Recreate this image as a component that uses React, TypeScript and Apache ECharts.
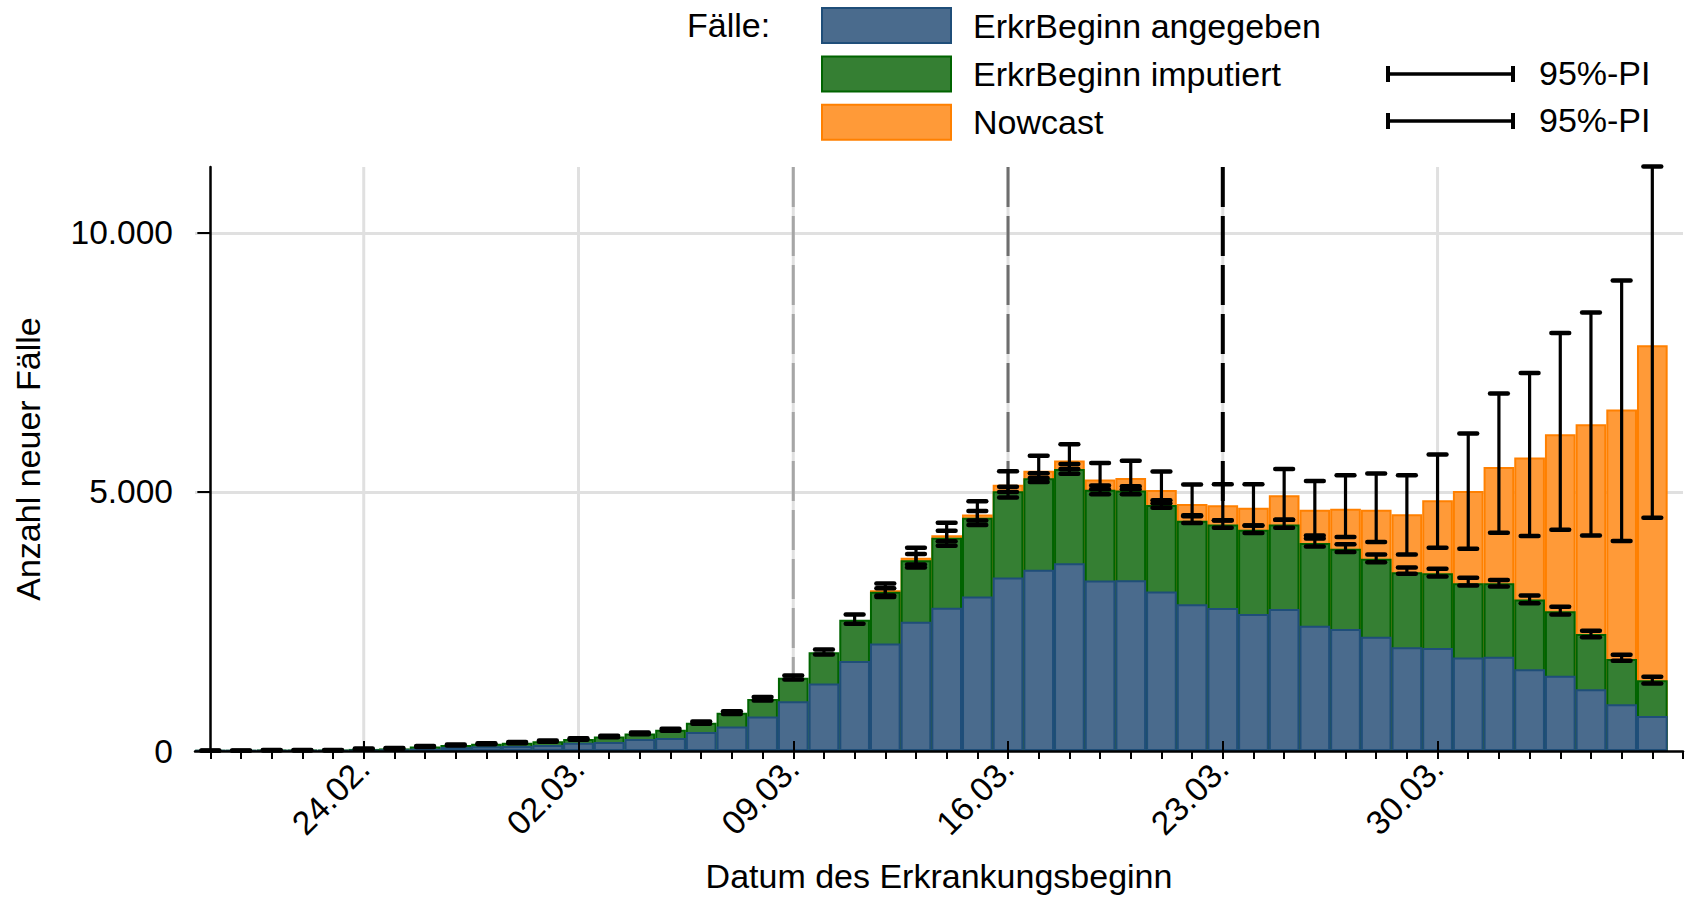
import React, { useEffect, useRef } from 'react';
import * as echarts from 'echarts';

const FONT = '"Liberation Sans", Arial, Helvetica, sans-serif';

const dates = [
  '19.02.', '20.02.', '21.02.', '22.02.', '23.02.', '24.02.', '25.02.', '26.02.', '27.02.', '28.02.', '29.02.',
  '01.03.', '02.03.', '03.03.', '04.03.', '05.03.', '06.03.', '07.03.', '08.03.', '09.03.', '10.03.',
  '11.03.', '12.03.', '13.03.', '14.03.', '15.03.', '16.03.', '17.03.', '18.03.', '19.03.', '20.03.',
  '21.03.', '22.03.', '23.03.', '24.03.', '25.03.', '26.03.', '27.03.', '28.03.', '29.03.', '30.03.',
  '31.03.', '01.04.', '02.04.', '03.04.', '04.04.', '05.04.', '06.04.',
];
const dayTicks = [
  0, 1, 2, 3, 4, 5, 6, 7, 8, 9, 10, 11, 12, 13, 14, 15, 16, 17, 18, 19, 20, 21, 22, 23, 24,
  25, 26, 27, 28, 29, 30, 31, 32, 33, 34, 35, 36, 37, 38, 39, 40, 41, 42, 43, 44, 45, 46, 47, 48,
];
const weekTicks = [5, 12, 19, 26, 33, 40];
const markerDays = [19, 26, 33];
const yTicks = [0, 5000, 10000];

// Fälle: ErkrBeginn angegeben
const reported = [
  5, 5, 8, 8, 8, 20, 30, 45, 75, 90, 96, 115, 160, 173, 231, 250, 368, 475, 668, 960, 1305,
  1735, 2076, 2494, 2764, 2982, 3350, 3500, 3625, 3290, 3295, 3080, 2830, 2761, 2645, 2741, 2419,
  2354, 2206, 2000, 1987, 1806, 1819, 1580, 1451, 1193, 903, 677,
];
// angegeben + imputiert (Gesamt)
const imputedTotal = [
  8, 8, 15, 15, 15, 40, 50, 85, 115, 140, 160, 190, 230, 280, 340, 410, 545, 740, 1005, 1415, 1905,
  2532, 3072, 3683, 4113, 4499, 5015, 5265, 5440, 5040, 5025, 4745, 4445, 4373, 4270, 4373, 4012,
  3902, 3709, 3451, 3431, 3238, 3238, 2922, 2696, 2257, 1774, 1367,
];
// Nowcast (Gesamt)
const nowcastTotal = [
  null, null, null, null, null, null, null, null, null, null, null, null, null, null, null, null, null,
  null, null, null, null, null,
  3100, 3730, 4165, 4565, 5140, 5410, 5605, 5240, 5270, 5035, 4765, 4741, 4696, 4934, 4657, 4676,
  4657, 4567, 4838, 5018, 5483, 5662, 6112, 6305, 6588, 7828,
];
// 95%-PI imputiert
const imputedLo = [
  5, 5, 12, 12, 12, 35, 45, 78, 105, 130, 150, 178, 218, 265, 325, 392, 525, 715, 975, 1380, 1860,
  2455, 2970, 3540, 3960, 4360, 4890, 5190, 5350, 4955, 4955, 4692, 4402, 4309, 4205, 4309, 3947,
  3838, 3644, 3419, 3367, 3193, 3173, 2851, 2632, 2193, 1741, 1303,
];
const imputedHi = [
  12, 12, 20, 20, 20, 48, 58, 95, 125, 150, 172, 202, 244, 295, 358, 430, 568, 765, 1040, 1455, 1960,
  2635, 3140, 3800, 4250, 4630, 5100, 5360, 5540, 5125, 5110, 4840, 4550, 4451, 4354, 4463, 4100,
  3990, 3790, 3540, 3515, 3341, 3302, 2999, 2786, 2322, 1858, 1432,
];
// 95%-PI Nowcast
const nowcastLo = [
  null, null, null, null, null, null, null, null, null, null, null, null, null, null, null, null, null,
  null, null, null, null, null,
  3000, 3600, 4050, 4450, 5000, 5270, 5440, 5050, 5050, 4780, 4530, 4450, 4354, 4463, 4160, 4128,
  4031, 3793, 3922, 3902, 4212, 4147, 4270, 4160, 4051, 4502,
];
const nowcastHi = [
  null, null, null, null, null, null, null, null, null, null, null, null, null, null, null, null, null,
  null, null, null, null, null,
  3233, 3920, 4403, 4820, 5400, 5700, 5920, 5560, 5600, 5395, 5145, 5147, 5147, 5444, 5212, 5321,
  5354, 5321, 5721, 6125, 6897, 7294, 8065, 8464, 9081, 11279,
];

const markerColors = ['#a6a6a6', '#6e6e6e', '#000000'];
const markerWidths = [3, 3, 4];

function fmtDe(v: number) {
  return String(v).replace(/\B(?=(\d{3})+(?!\d))/g, '.');
}

export default function App() {
  const ref = useRef<HTMLDivElement>(null);

  useEffect(() => {
    document.body.style.margin = '0';
    const chart = echarts.init(ref.current!, null, { renderer: 'svg' });

    const blueData = reported.map((v, i) => [i, v]);
    const greenData = imputedTotal.map((v, i) => [i, v]);
    const orangeData: any[] = [];
    nowcastTotal.forEach((v, i) => {
      if (v != null) orangeData.push([i, v]);
    });
    const impErr = imputedLo.map((v, i) => [i, v, imputedHi[i]]);
    const nowErr: any[] = [];
    nowcastLo.forEach((v, i) => {
      if (v != null) nowErr.push([i, v, nowcastHi[i]]);
    });

    const errRender = (params: any, api: any) => {
      const x = api.value(0);
      const lo = api.coord([x, api.value(1)]);
      const hi = api.coord([x, api.value(2)]);
      const hw = api.size([1, 0])[0] * 0.29;
      return {
        type: 'group',
        children: [
          { type: 'line', shape: { x1: lo[0], y1: lo[1], x2: hi[0], y2: hi[1] }, style: { stroke: '#000', lineWidth: 3.2 } },
          { type: 'line', shape: { x1: lo[0] - hw, y1: lo[1], x2: lo[0] + hw, y2: lo[1] }, style: { stroke: '#000', lineWidth: 4.5, lineCap: 'round' } },
          { type: 'line', shape: { x1: hi[0] - hw, y1: hi[1], x2: hi[0] + hw, y2: hi[1] }, style: { stroke: '#000', lineWidth: 4.5, lineCap: 'round' } },
        ],
      };
    };

    const gridLeft = 195, gridRight = 3, gridTop = 167, gridBottom = 147;

    chart.setOption({
      animation: false,
      textStyle: { fontFamily: FONT },
      grid: [
        { left: gridLeft, right: gridRight, top: gridTop, bottom: gridBottom },
        { left: gridLeft, right: gridRight, top: gridTop, bottom: gridBottom },
      ],
      legend: {
        data: ['ErkrBeginn angegeben', 'ErkrBeginn imputiert', 'Nowcast'],
        orient: 'vertical',
        left: 821,
        top: 7,
        padding: 0,
        itemWidth: 129,
        itemHeight: 35,
        itemGap: 11.4,
        icon: 'rect',
        selectedMode: false,
        textStyle: { fontSize: 34, lineHeight: 35, color: '#000', fontFamily: FONT, padding: [0, 0, 0, 17] },
      },
      graphic: [
        { type: 'text', left: 687, top: 8, style: { text: 'Fälle:', font: `34px ${FONT}`, fill: '#000' } },
        { type: 'line', shape: { x1: 1387, y1: 74, x2: 1514, y2: 74 }, style: { stroke: '#000', lineWidth: 3.5 } },
        { type: 'line', shape: { x1: 1388, y1: 66, x2: 1388, y2: 82 }, style: { stroke: '#000', lineWidth: 4 } },
        { type: 'line', shape: { x1: 1513, y1: 66, x2: 1513, y2: 82 }, style: { stroke: '#000', lineWidth: 4 } },
        { type: 'text', left: 1539, top: 56, style: { text: '95%-PI', font: `34px ${FONT}`, fill: '#000' } },
        { type: 'line', shape: { x1: 1387, y1: 121, x2: 1514, y2: 121 }, style: { stroke: '#000', lineWidth: 3.5 } },
        { type: 'line', shape: { x1: 1388, y1: 113, x2: 1388, y2: 129 }, style: { stroke: '#000', lineWidth: 4 } },
        { type: 'line', shape: { x1: 1513, y1: 113, x2: 1513, y2: 129 }, style: { stroke: '#000', lineWidth: 4 } },
        { type: 'text', left: 1539, top: 103, style: { text: '95%-PI', font: `34px ${FONT}`, fill: '#000' } },
      ],
      xAxis: [
        {
          type: 'value',
          gridIndex: 0,
          min: -0.5,
          max: 48,
          z: 4,
          axisLine: { show: true, lineStyle: { color: '#000', width: 2.5 } },
          axisTick: { show: true, customValues: dayTicks, length: 8, lineStyle: { color: '#000', width: 2 } },
          axisLabel: { show: false },
          splitLine: { show: false },
        },
        {
          type: 'value',
          gridIndex: 1,
          min: -0.5,
          max: 48,
          z: 4,
          axisLine: { show: false },
          axisTick: { show: true, customValues: weekTicks, length: 14, lineStyle: { color: '#000', width: 2 } },
          axisLabel: {
            show: true,
            customValues: weekTicks,
            rotate: 45,
            margin: 22,
            fontSize: 33.5,
            color: '#000',
            fontFamily: FONT,
            formatter: (v: number) => dates[Math.round(v)] ?? '',
          },
          splitLine: { show: false },
          name: 'Datum des Erkrankungsbeginn',
          nameLocation: 'middle',
          nameGap: 118,
          nameTextStyle: { fontSize: 34, color: '#000', fontFamily: FONT },
        },
      ],
      yAxis: [
        {
          type: 'value',
          gridIndex: 0,
          min: 0,
          max: 11270,
          interval: 5000,
          axisLine: { show: true, lineStyle: { color: '#000', width: 2.5 } },
          axisTick: { show: true, customValues: yTicks, length: 13, lineStyle: { color: '#000', width: 2 } },
          axisLabel: {
            customValues: yTicks,
            margin: 22,
            fontSize: 33.5,
            color: '#000',
            fontFamily: FONT,
            formatter: (v: number) => fmtDe(v),
          },
          splitLine: { show: true, showMinLine: false, lineStyle: { color: '#e0e0e0', width: 3 } },
          name: 'Anzahl neuer Fälle',
          nameLocation: 'middle',
          nameGap: 150,
          nameTextStyle: { fontSize: 34, color: '#000', fontFamily: FONT },
        },
        { type: 'value', gridIndex: 1, min: 0, max: 1, show: false },
      ],
      series: [
        {
          type: 'custom',
          name: 'grid',
          xAxisIndex: 0,
          yAxisIndex: 0,
          z: 1,
          silent: true,
          data: weekTicks.map((d) => [d, 0]),
          encode: { x: 0, y: 1 },
          renderItem: (params: any, api: any) => {
            const x = api.coord([api.value(0), 0])[0];
            const cs = params.coordSys;
            return {
              type: 'line',
              shape: { x1: x, y1: cs.y, x2: x, y2: cs.y + cs.height },
              style: { stroke: '#e0e0e0', lineWidth: 3 },
            };
          },
        },
        {
          type: 'custom',
          name: 'marker',
          xAxisIndex: 0,
          yAxisIndex: 0,
          z: 1.5,
          silent: true,
          data: markerDays.map((d) => [d, 0]),
          encode: { x: 0, y: 1 },
          renderItem: (params: any, api: any) => {
            const x = api.coord([api.value(0), 0])[0];
            const cs = params.coordSys;
            const i = params.dataIndex;
            return {
              type: 'line',
              shape: { x1: x, y1: cs.y, x2: x, y2: cs.y + cs.height },
              style: { stroke: markerColors[i], lineWidth: markerWidths[i], lineDash: [40, 9] },
            };
          },
        },
        {
          type: 'bar',
          name: 'Nowcast',
          barWidth: '100%',
          barGap: '-100%',
          z: 2,
          data: orangeData,
          itemStyle: { color: '#ff9a38', borderColor: '#ff8000', borderWidth: 2 },
        },
        {
          type: 'bar',
          name: 'ErkrBeginn imputiert',
          barWidth: '100%',
          barGap: '-100%',
          z: 2,
          data: greenData,
          itemStyle: { color: '#357f33', borderColor: '#006400', borderWidth: 2 },
        },
        {
          type: 'bar',
          name: 'ErkrBeginn angegeben',
          barWidth: '100%',
          barGap: '-100%',
          z: 2,
          data: blueData,
          itemStyle: { color: '#4a6b8d', borderColor: '#1f4e79', borderWidth: 2 },
        },
        {
          type: 'custom',
          name: 'PI imputiert',
          z: 3,
          silent: true,
          data: impErr,
          encode: { x: 0, y: [1, 2] },
          renderItem: errRender,
        },
        {
          type: 'custom',
          name: 'PI Nowcast',
          z: 3,
          silent: true,
          data: nowErr,
          encode: { x: 0, y: [1, 2] },
          renderItem: errRender,
        },
      ],
    });

    return () => chart.dispose();
  }, []);

  return <div ref={ref} style={{ position: 'absolute', left: 0, top: 0, width: 1686, height: 898 }} />;
}
